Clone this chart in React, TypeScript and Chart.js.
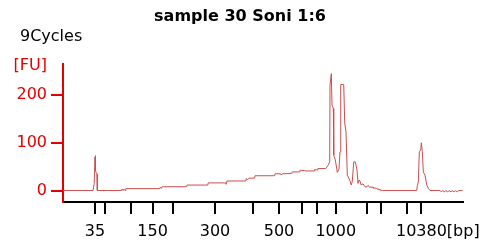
import React, { useEffect, useRef } from "react";
import { Chart, registerables } from "chart.js";

Chart.register(...registerables);

// Migration time (s) of each ladder band and its size in bp
const ladderTimes = [28.0, 30.5, 37.0, 42.4, 47.6, 58.0, 67.6, 74.0, 79.7, 83.6, 88.2, 96.1, 99.6, 106.1, 109.6];
const ladderBp = [35, 50, 100, 150, 200, 300, 400, 500, 600, 700, 1000, 2000, 3000, 7000, 10380];
const labeledBp = [35, 150, 300, 500, 1000, 10380];
const yTicks = [0, 100, 200];

// Electropherogram trace: time (s) and fluorescence (FU)
const traceTime = [
  20, 27.5, 27.8, 28.0, 28.08, 28.15, 28.35, 28.5, 28.58, 34.6,
  34.75, 35.0, 35.25, 35.5, 35.7, 44.2, 44.3, 44.5, 44.7, 44.8,
  50.9, 51.0, 56.2, 56.3, 60.7, 60.8, 61.0, 65.7, 65.8, 66.2,
  66.5, 67.9, 68.0, 72.9, 73.0, 74.4, 74.5, 74.9, 77.2, 77.3,
  79.2, 79.3, 79.7, 80.4, 80.5, 82.8, 82.9, 83.6, 83.7, 85.7,
  86.2, 86.68, 86.75, 87.08, 87.25, 87.58, 87.68, 88.08, 88.58, 89.0,
  89.25, 89.43, 90.18, 90.43, 90.75, 91.08, 91.68, 92.08, 92.33, 92.68,
  93.08, 93.5, 93.75, 94.0, 94.25, 94.5, 95.0, 95.5, 96.0, 96.3,
  96.6, 97.5, 97.6, 98.3, 98.5, 99.0, 99.2, 99.9, 108.43, 108.58,
  108.83, 109.08, 109.43, 109.58, 109.83, 110.08, 110.5, 110.93, 111.33, 111.75,
  114.3, 114.6, 114.9, 115.4, 115.7, 116.2, 116.5, 117.0, 117.3, 117.8,
  118.1, 118.6, 118.9, 119.9,
];
const traceFu = [
  0, 0, 15, 70, 73, 42, 36, 35, 0, 0,
  3, 0, 3, 0, 4, 4, 7, 5, 7, 8,
  8, 11.5, 11.5, 16, 16, 13, 20, 20, 25, 23,
  26, 26, 31, 31, 35, 35, 33, 35, 36, 39,
  39, 43, 42, 42, 41, 41, 44, 43, 46, 46,
  52, 60, 221, 245, 179, 172, 74, 64, 38, 45,
  81, 222, 222, 141, 123, 32, 22, 11.5, 20, 60,
  60, 43, 15, 22, 20, 12, 14, 8, 8, 11,
  7, 7, 5, 5, 3, 3, 1, 0, 0, 10,
  18, 81, 85, 100, 81, 39, 32, 11.5, 4.6, 0,
  0, -3, 0, -3, 0, -3, 0, -3, 0, -3,
  0, -3, 0, 0,
];

const RED = "#e60000";
const TRACE = "#c85050";
const FONT = "'DejaVu Sans', Verdana, sans-serif";
const TICK_PAD = 8;

export default function App() {
  const ref = useRef<HTMLCanvasElement | null>(null);

  useEffect(() => {
    if (!ref.current) return;
    const textPlugin = {
      id: "texts",
      afterDraw(chart: any) {
        const ctx = chart.ctx;
        ctx.save();
        ctx.fillStyle = "#000";
        ctx.font = `bold 16px ${FONT}`;
        ctx.textAlign = "center";
        ctx.textBaseline = "middle";
        ctx.fillText("sample 30 Soni 1:6", 240, 17);
        ctx.font = `16px ${FONT}`;
        ctx.textAlign = "left";
        ctx.fillText("9Cycles", 20, 37);
        ctx.fillStyle = RED;
        ctx.textAlign = "right";
        ctx.fillText("[FU]", 47, 66);
        // unit after the last x label
        const xs = chart.scales.x;
        const lastT = ladderTimes[ladderBp.indexOf(10380)];
        const px = xs.getPixelForValue(lastT);
        ctx.fillStyle = "#000";
        ctx.font = `16px ${FONT}`;
        const w = ctx.measureText("10380").width;
        ctx.textAlign = "left";
        ctx.fillText("[bp]", px + w / 2, xs.top + 12 + TICK_PAD + 9.6);
        ctx.restore();
      },
    };

    const chart = new Chart(ref.current, {
      type: "scatter",
      data: {
        datasets: [
          {
            data: traceTime.map((t, i) => ({ x: t, y: traceFu[i] })),
            showLine: true,
            borderColor: TRACE,
            borderWidth: 1,
            pointRadius: 0,
            tension: 0,
          },
        ],
      },
      options: {
        animation: false,
        responsive: false,
        layout: { padding: { top: 64, right: 17, left: 0, bottom: 0 } },
        plugins: { legend: { display: false }, tooltip: { enabled: false }, title: { display: false } },
        scales: {
          x: {
            type: "linear",
            min: 20,
            max: 120,
            afterBuildTicks: (s: any) => {
              s.ticks = ladderTimes.map((v) => ({ value: v }));
            },
            afterFit: (s: any) => {
              s.height = 42;
            },
            ticks: {
              autoSkip: false,
              maxRotation: 0,
              padding: TICK_PAD,
              color: "#000",
              font: { family: FONT, size: 16 },
              callback: (v: any) => {
                const i = ladderTimes.indexOf(Number(v));
                if (i < 0) return "";
                const bp = ladderBp[i];
                return labeledBp.includes(bp) ? String(bp) : "";
              },
            },
            grid: { drawOnChartArea: false, drawTicks: true, tickLength: 12, color: "#000", lineWidth: 2 },
            border: { color: "#000", width: 2 },
          },
          y: {
            min: -24,
            max: 265,
            afterBuildTicks: (s: any) => {
              s.ticks = yTicks.map((v) => ({ value: v }));
            },
            afterFit: (s: any) => {
              s.width = 63;
            },
            ticks: {
              padding: 4,
              color: RED,
              font: { family: FONT, size: 16 },
            },
            grid: { drawOnChartArea: false, drawTicks: true, tickLength: 12, color: RED, lineWidth: 2 },
            border: { color: RED, width: 2 },
          },
        },
      },
      plugins: [textPlugin],
    });
    return () => chart.destroy();
  }, []);

  return (
    <div style={{ position: "fixed", left: 0, top: 0, width: 480, height: 244, background: "#fff" }}>
      <canvas ref={ref} width={480} height={244} />
    </div>
  );
}
